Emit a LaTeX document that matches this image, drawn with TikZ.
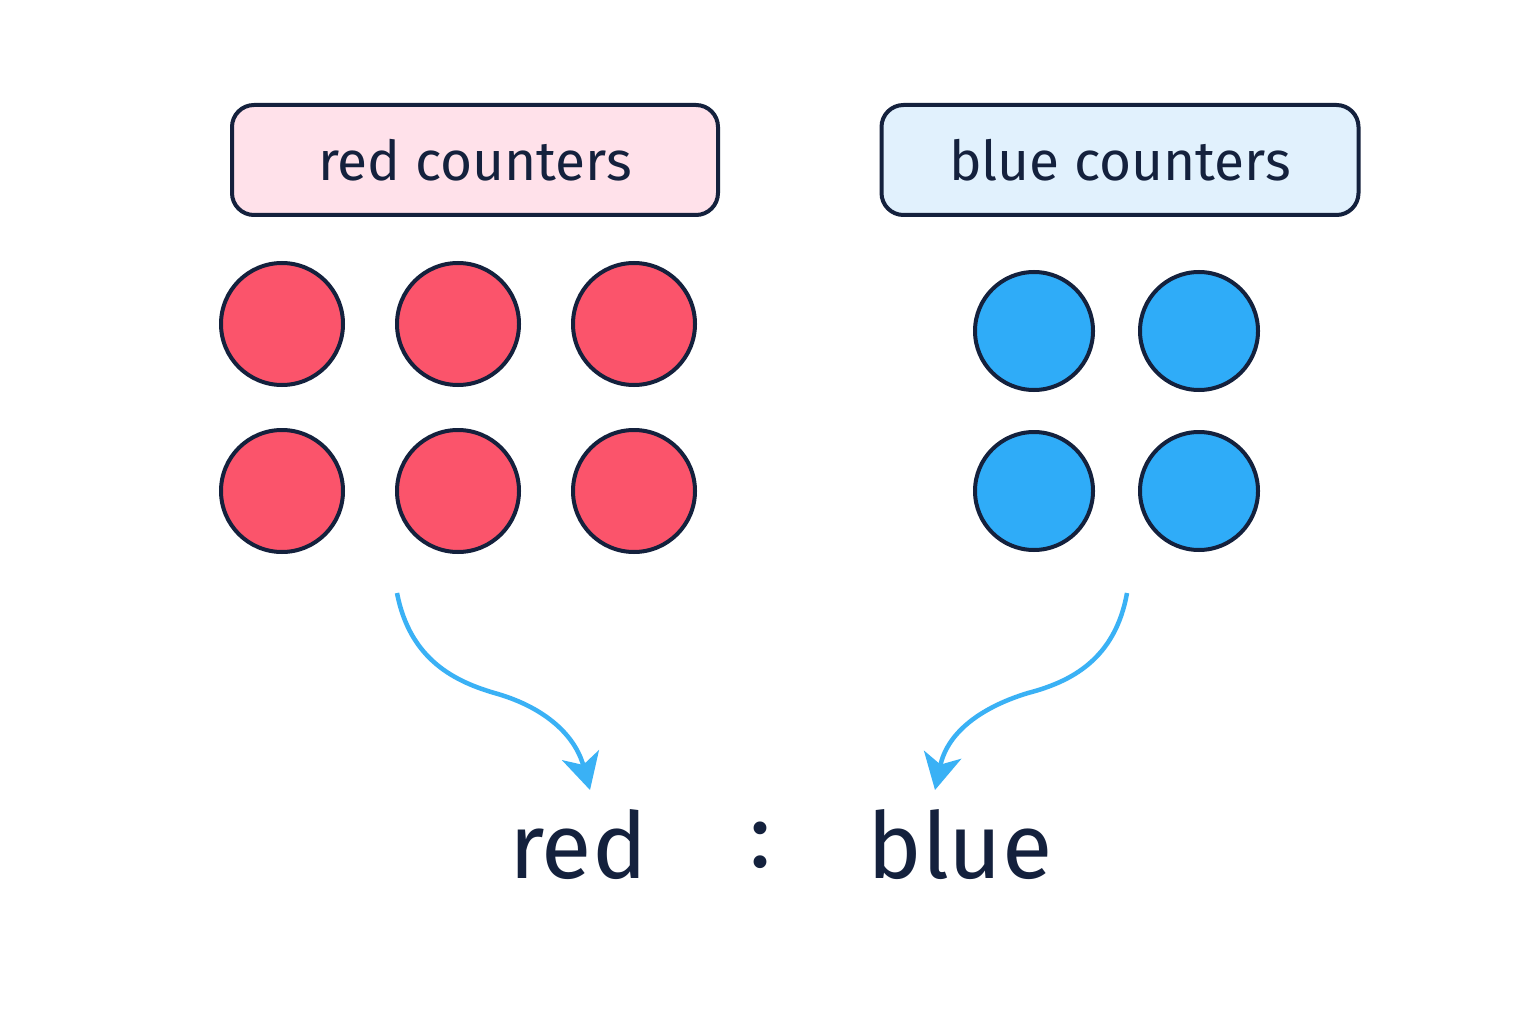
\documentclass[tikz,border=0pt]{standalone}
\usepackage{fontspec}
\setmainfont{Fira Sans}
\usepackage{tikz}
\usetikzlibrary{arrows.meta}

\definecolor{ink}{HTML}{14213D}
\definecolor{redfill}{HTML}{FB546B}
\definecolor{bluefill}{HTML}{2FACF8}
\definecolor{redbox}{HTML}{FFE1EA}
\definecolor{bluebox}{HTML}{E1F1FD}
\definecolor{arrowblue}{HTML}{3AB1F5}

\tikzset{
  label box/.style={draw=ink, line width=4pt, rounded corners=22pt,
    minimum height=110pt, font=\fontsize{55}{64}\selectfont, text=ink},
  counter/.style={circle, draw=ink, line width=4pt, inner sep=0pt},
  big word/.style={font=\fontsize{92}{100}\selectfont, text=ink},
  link/.style={arrowblue, line width=4.5pt,
    -{Stealth[length=36pt,width=38pt,inset=10pt]}}
}

\begin{document}
\begin{tikzpicture}[x=1pt,y=-1pt]
\fill[white] (0,0) rectangle (1536,1024);
\useasboundingbox (0,0) rectangle (1536,1024);

\node[label box, fill=redbox, minimum width=486pt] (redlabel) at (475,160) {red counters};
\node[label box, fill=bluebox, minimum width=477pt] (bluelabel) at (1120,160) {blue counters};

\foreach \x [count=\i] in {282,458,634} {
  \node[counter, fill=redfill, minimum size=122pt] (r\i a) at (\x,324) {};
  \node[counter, fill=redfill, minimum size=122pt] (r\i b) at (\x,491) {};
}
\foreach \x [count=\i] in {1034,1199} {
  \node[counter, fill=bluefill, minimum size=118pt] (b\i a) at (\x,331) {};
  \node[counter, fill=bluefill, minimum size=118pt] (b\i b) at (\x,491) {};
}

\node[big word] (redword) at (578,845) {red};
\node[big word] (colon) at (761,845) {:};
\node[big word] (blueword) at (960,845) {blue};

\coordinate (redstart) at (397,593);
\coordinate (bluestart) at (1127,593);

\draw[link] (redstart)
  .. controls (410,660) and (455,682) .. (498,694)
  .. controls (545,708) and (575,735) .. (590,790);
\draw[link] (bluestart)
  .. controls (1115,660) and (1070,682) .. (1028,693)
  .. controls (985,706) and (948,730) .. (935,790);
\end{tikzpicture}
\end{document}
